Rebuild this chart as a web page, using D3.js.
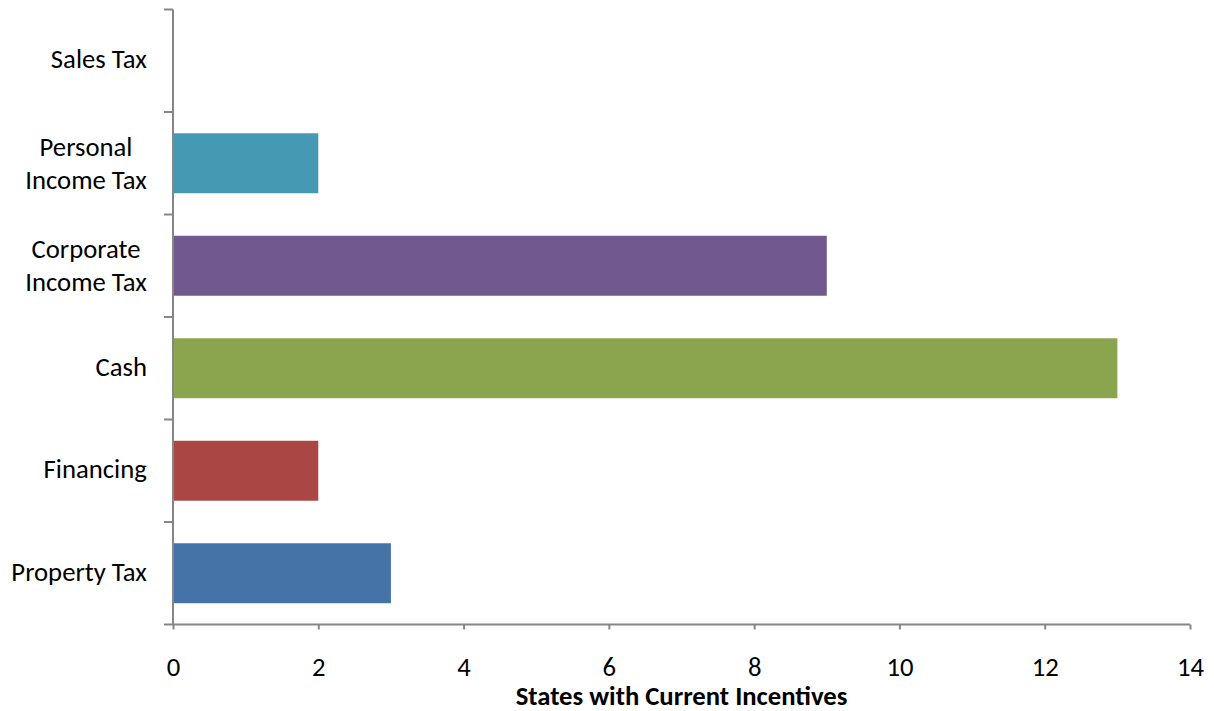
<!DOCTYPE html>
<html>
<head>
<meta charset="utf-8">
<script src="https://cdn.jsdelivr.net/npm/d3@7/dist/d3.min.js"></script>
<style>
  html, body { margin: 0; padding: 0; background: #fff; }
  svg { display: block; font-family: Carlito, Calibri, "Open Sans", sans-serif; }
</style>
</head>
<body>
<svg id="chart" width="1214" height="711"></svg>
<script>
// Incentive types, listed top to bottom
const categories = [
  ["Sales Tax"],
  ["Personal", "Income Tax"],
  ["Corporate", "Income Tax"],
  ["Cash"],
  ["Financing"],
  ["Property Tax"]
];
const values = [0, 2, 9, 13, 2, 3];
const colors = ["#4f81bd", "#4599b2", "#71598f", "#8ba54e", "#aa4643", "#4572a7"];
const xTicks = [0, 2, 4, 6, 8, 10, 12, 14];
const xTitle = "States with Current Incentives";

const svg = d3.select("#chart");
const plotLeft = 173, plotRight = 1190, plotTop = 9.5, plotBottom = 624.5;
const axisColor = "#868686";
const fontSize = 26.7;

const keys = categories.map((c, i) => i);
const x = d3.scaleLinear().domain([0, 14]).range([plotLeft, plotRight]);
const y = d3.scaleBand().domain(keys).range([plotTop, plotBottom])
  .paddingInner(0.415).paddingOuter(0.2075);

// Bars
svg.append("g").selectAll("rect")
  .data(keys)
  .join("rect")
  .attr("x", x(0))
  .attr("y", i => y(i))
  .attr("width", i => x(values[i]) - x(0))
  .attr("height", y.bandwidth())
  .attr("fill", i => colors[i]);

// Category axis with ticks between bands
const gy = svg.append("g").attr("stroke", axisColor).attr("stroke-width", 2);
gy.append("line").attr("x1", plotLeft).attr("x2", plotLeft).attr("y1", plotTop).attr("y2", plotBottom);
const step = y.step();
d3.range(categories.length + 1).forEach(k => {
  const yy = plotTop + k * step;
  gy.append("line").attr("x1", plotLeft - 9).attr("x2", plotLeft).attr("y1", yy).attr("y2", yy);
});

// Category labels, right-aligned block with centred lines
const lineH = 33;
const labels = svg.append("g").attr("font-size", fontSize).attr("fill", "#000");
categories.forEach((lines, i) => {
  const cy = y(i) + y.bandwidth() / 2;
  const extra = lines.length > 1 ? 1.5 : 0;
  const g = labels.append("g");
  const t = g.append("text").attr("text-anchor", "middle");
  lines.forEach((ln, j) => {
    t.append("tspan").attr("x", 0)
      .attr("y", cy + (j - (lines.length - 1) / 2) * lineH + 7.5 + extra)
      .text(ln);
  });
  const w = t.node().getBBox().width;
  g.attr("transform", `translate(${147 - w / 2},0)`);
});

// Value axis
const axisX = d3.axisBottom(x).tickValues(xTicks).tickSize(5).tickSizeOuter(0);
const gx = svg.append("g").attr("transform", `translate(0,${plotBottom})`).call(axisX);
gx.select(".domain").attr("stroke", axisColor).attr("stroke-width", 2).attr("d", `M${plotLeft},0H${plotRight}`);
gx.selectAll(".tick line").attr("stroke", axisColor).attr("stroke-width", 2);
gx.selectAll(".tick text")
  .attr("y", 51).attr("dy", null)
  .attr("font-size", fontSize).attr("fill", "#000")
  .attr("font-family", "Carlito, Calibri, 'Open Sans', sans-serif");

// Axis title
svg.append("text")
  .attr("x", 681.5).attr("y", 705)
  .attr("text-anchor", "middle")
  .attr("font-size", fontSize).attr("font-weight", "bold")
  .text(xTitle);
</script>
</body>
</html>
